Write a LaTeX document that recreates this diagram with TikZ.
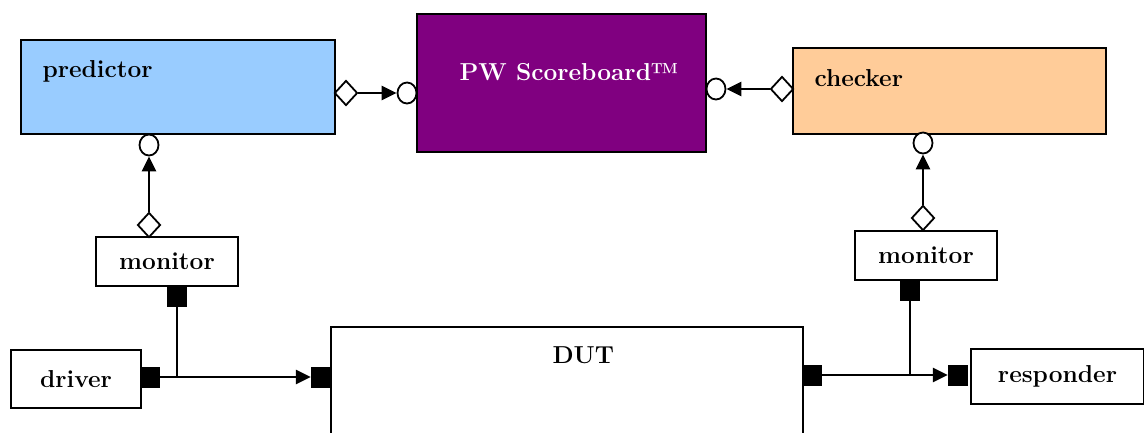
\documentclass[tikz,border=0pt]{standalone}
\usetikzlibrary{shapes.geometric,arrows.meta}
\definecolor{predblue}{HTML}{99CCFF}
\definecolor{scorepurple}{HTML}{800080}
\definecolor{checkorange}{HTML}{FFCC99}
\begin{document}
\begin{tikzpicture}[x=1pt,y=-1pt,
	font=\fontsize{24.5}{28}\selectfont\bfseries,
	box/.style={draw,line width=2pt,inner sep=0pt,anchor=north west},
	port/.style={fill=black,inner sep=0pt,minimum width=20pt,minimum height=21pt},
	agg/.style={diamond,draw,fill=white,line width=1.8pt,inner sep=0pt,minimum width=23pt,minimum height=25pt},
	sock/.style={ellipse,draw,fill=white,line width=1.8pt,inner sep=0pt,minimum width=19pt,minimum height=21pt},
	conn/.style={line width=2.5pt,-{Triangle[length=15pt,width=14pt]}}]
	\useasboundingbox (0,0) rectangle (1144,432);

	% components
	\node[box,fill=predblue,minimum width=314pt,minimum height=94pt] (predictor) at (20,39) {};
	\node[anchor=base west] at (39,77) {predictor};
	\node[box,fill=scorepurple,minimum width=289pt,minimum height=138pt] (scoreboard) at (416,13) {};
	\node[anchor=base west,text=white] at (456,80) {PW Scoreboard™};
	\node[box,fill=checkorange,minimum width=313pt,minimum height=86pt] (checker) at (792,47) {};
	\node[anchor=base west] at (811,86) {checker};
	\node[box,minimum width=142pt,minimum height=49pt] (mon-in) at (95,236) {monitor};
	\node[box,minimum width=142pt,minimum height=49pt] (mon-out) at (854,230) {monitor};
	\node[box,minimum width=130pt,minimum height=58pt] (driver) at (10,349) {driver};
	\node[box,minimum width=472pt,minimum height=140pt] (dut) at (330,326) {};
	\node[anchor=base west] at (549,363) {DUT};
	\node[box,minimum width=173pt,minimum height=55pt] (responder) at (970,348) {responder};

	% ports
	\node[port] (drv-p) at (150,377) {};
	\node[port] (dut-in) at (321,377) {};
	\node[port] (dut-out) at (812,375) {};
	\node[port] (rsp-p) at (958,375) {};
	\node[port] (mon-in-p) at (177,296) {};
	\node[port] (mon-out-p) at (910,290) {};

	% analysis connections
	\node[agg] (pred-a) at (346,93) {};
	\node[sock] (sb-in) at (407,93) {};
	\node[agg] (chk-a) at (782,89) {};
	\node[sock] (sb-out) at (716,89) {};
	\node[sock] (pred-s) at (149,145) {};
	\node[agg] (mon-in-a) at (149,225) {};
	\node[sock] (chk-s) at (923,143) {};
	\node[agg] (mon-out-a) at (923,218) {};

	\draw[conn] (pred-a) -- (sb-in);
	\draw[conn] (chk-a) -- (sb-out);
	\draw[conn] (mon-in-a) -- (pred-s);
	\draw[conn] (mon-out-a) -- (chk-s);
	\draw[conn] (drv-p) -- (dut-in);
	\draw[conn] (dut-out) -- (rsp-p);
	\draw[line width=2pt] (mon-in-p) -- (mon-in-p |- drv-p);
	\draw[line width=2pt] (mon-out-p) -- (mon-out-p |- dut-out);
\end{tikzpicture}
\end{document}
